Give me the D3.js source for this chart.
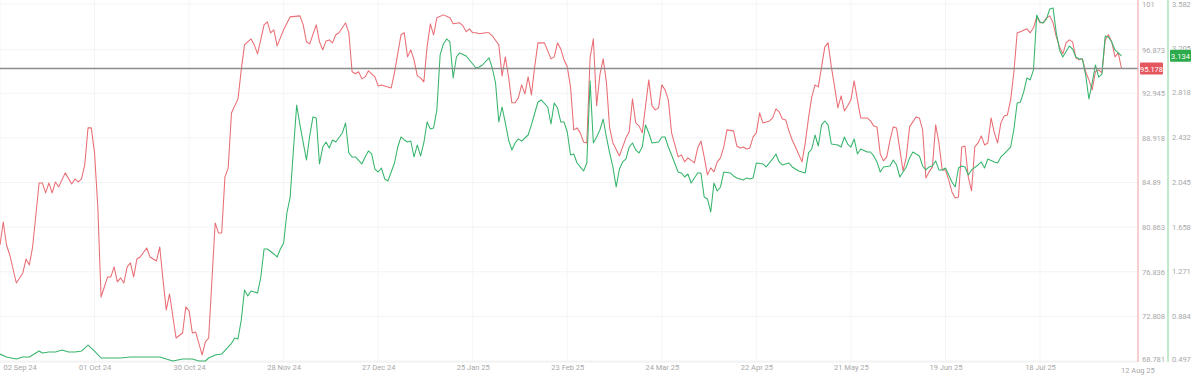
<!DOCTYPE html>
<html>
<head>
<meta charset="utf-8">
<script src="https://cdn.jsdelivr.net/npm/d3@7"></script>
<style>
  body { margin: 0; background: #fff; }
  text { font-family: Roboto, "Liberation Sans", Arial, sans-serif; }
</style>
</head>
<body>
<svg id="chart" width="1200" height="386"></svg>
<script>
// series data: [days since start, value]
const startDate = new Date(2024, 8, 2);
const endDate = new Date(2025, 7, 12);

const redSeries = [[0,79.25],[1,81.33],[2,79.25],[3,78.35],[5,75.82],[7,76.73],[8,77.99],[9,77.45],[10,79.07],[12,84.85],[13,84.85],[14,83.95],[15,84.85],[16,83.95],[17,84.94],[18,84.49],[20,85.76],[22,84.76],[23,85.21],[24,84.94],[25,85.21],[26,86.48],[27,89.82],[28,89.82],[29,87.56],[30,82.69],[31,74.56],[32,75.46],[33,76.37],[34,76.37],[35,77.27],[36,75.92],[37,76.28],[38,75.82],[39,77.27],[40,77.63],[41,76.37],[42,77.99],[43,78.17],[45,78.98],[46,78.17],[48,77.81],[49,79.07],[50,76.10],[51,73.39],[52,74.83],[54,70.86],[56,71.31],[57,73.66],[58,73.30],[59,71.31],[60,71.40],[62,69.33],[63,70.50],[64,70.86],[66,81.24],[67,80.34],[68,80.34],[69,85.40],[70,86.21],[71,91.17],[73,92.44],[74,95.06],[75,97.31],[77,97.85],[78,97.31],[79,96.50],[81,99.12],[82,99.39],[83,98.40],[84,98.67],[85,97.22],[87,98.67],[89,99.84],[92,99.93],[93,99.12],[94,97.59],[95,97.40],[97,99.12],[98,97.59],[99,96.86],[100,97.67],[101,97.76],[102,97.49],[103,98.22],[104,98.40],[106,99.30],[107,98.40],[108,94.88],[109,94.70],[110,94.88],[111,94.24],[112,94.42],[113,94.97],[115,94.42],[116,93.61],[117,93.70],[119,93.52],[120,93.43],[121,94.79],[123,98.22],[124,98.40],[125,96.23],[126,96.86],[127,95.96],[128,94.51],[129,94.33],[130,93.97],[131,97.13],[132,99.21],[133,98.22],[134,99.75],[136,100.02],[138,99.75],[139,99.21],[141,99.30],[142,99.03],[143,98.5],[144,98.76],[145,98.40],[146,98.40],[147,98.31],[149,98.40],[150,98.40],[151,98.13],[153,97.31],[154,94.51],[155,96.23],[156,94.42],[157,92.08],[158,92.08],[159,92.53],[160,93.70],[161,92.89],[162,94.42],[163,92.80],[164,95.33],[165,97.49],[167,97.49],[169,96.05],[170,96.23],[171,97.49],[172,96.95],[173,95.96],[174,95.33],[175,93.52],[176,89.64],[177,89.82],[178,89.37],[179,88.55],[180,88.46],[181,96.14],[182,97.85],[183,91.81],[184,94.60],[185,96.05],[186,93.97],[187,89.82],[188,88.46],[190,87.29],[191,88.10],[192,88.92],[193,89.46],[194,92.44],[195,90.27],[196,90.00],[197,89.37],[199,94.15],[200,91.81],[201,91.44],[202,91.63],[203,93.70],[204,93.25],[205,92.35],[206,89.37],[208,87.20],[209,87.38],[210,86.75],[211,87.11],[213,86.66],[214,88.01],[215,88.64],[216,87.20],[217,85.58],[218,86.21],[219,85.85],[220,86.75],[221,87.11],[222,88.10],[223,89.64],[225,89.55],[226,88.19],[227,88.01],[228,88.10],[229,87.92],[230,88.01],[231,89.01],[232,89.37],[233,91.17],[234,90.27],[236,90.45],[237,90.72],[238,91.53],[239,91.26],[240,90.63],[241,90.54],[242,89.55],[243,88.73],[244,88.10],[246,86.75],[247,88.46],[248,90.72],[249,92.62],[250,93.70],[251,93.52],[252,95.33],[253,97.13],[254,97.49],[255,95.33],[256,93.52],[257,91.63],[258,92.71],[259,91.35],[260,91.81],[261,92.35],[262,94.06],[263,92.35],[264,90.72],[266,90.72],[267,90.45],[268,90.00],[269,89.91],[270,87.47],[271,86.84],[272,87.20],[273,88.73],[274,89.91],[275,89.82],[277,85.94],[278,87.20],[279,89.91],[280,90.36],[281,90.81],[282,90.72],[283,89.64],[284,85.30],[285,85.85],[286,86.30],[287,90.09],[288,88.46],[289,86.03],[290,86.03],[291,85.12],[292,84.04],[293,83.50],[294,83.59],[295,88.10],[296,88.19],[297,85.40],[298,84.13],[299,88.10],[300,88.46],[301,89.10],[302,88.28],[303,88.46],[304,90.72],[305,89.37],[306,88.46],[307,90.27],[308,90.90],[309,90.99],[310,92.35],[311,94.88],[312,98.40],[313,98.49],[315,98.76],[316,98.40],[317,98.85],[318,99.84],[319,99.30],[320,99.30],[321,99.75],[322,99.93],[323,99.30],[324,98.04],[325,97.13],[326,96.50],[327,97.49],[328,97.76],[329,97.58],[330,96.14],[331,95.96],[332,96.05],[333,94.88],[334,94.15],[335,93.25],[336,94.88],[337,95.06],[338,94.79],[339,97.76],[340,98.22],[341,97.58],[342,96.23],[343,96.59],[344,95.18]];

const greenSeries = [[0,0.557],[2,0.531],[5,0.514],[7,0.531],[9,0.531],[12,0.583],[13,0.566],[15,0.575],[17,0.575],[19,0.592],[21,0.575],[23,0.575],[25,0.583],[27,0.635],[29,0.583],[31,0.523],[34,0.523],[37,0.523],[40,0.531],[43,0.531],[46,0.531],[49,0.531],[53,0.497],[56,0.514],[59,0.514],[61,0.497],[63,0.497],[64,0.523],[66,0.549],[68,0.557],[71,0.65],[72,0.696],[73,0.687],[74,0.851],[75,1.111],[76,1.059],[77,1.102],[79,1.085],[80,1.223],[81,1.465],[82,1.465],[84,1.422],[85,1.396],[86,1.465],[87,1.517],[88,1.776],[89,1.914],[90,2.321],[91,2.709],[92,2.537],[94,2.234],[95,2.442],[96,2.606],[97,2.597],[98,2.200],[99,2.346],[100,2.390],[101,2.338],[102,2.407],[103,2.390],[105,2.467],[106,2.554],[107,2.295],[108,2.260],[109,2.260],[111,2.200],[112,2.260],[113,2.312],[114,2.286],[115,2.156],[116,2.130],[117,2.165],[118,2.070],[119,2.053],[121,2.208],[122,2.346],[123,2.433],[124,2.407],[125,2.390],[126,2.398],[127,2.260],[128,2.364],[129,2.269],[130,2.381],[131,2.562],[132,2.502],[133,2.511],[134,2.666],[135,3.142],[136,3.237],[137,3.280],[138,3.254],[139,2.943],[140,3.124],[141,3.159],[143,3.133],[144,3.098],[146,3.029],[147,3.038],[148,3.055],[150,3.116],[151,3.029],[152,2.900],[153,2.563],[154,2.692],[155,2.554],[156,2.407],[157,2.321],[158,2.381],[159,2.416],[160,2.398],[161,2.424],[162,2.450],[163,2.537],[165,2.735],[166,2.753],[168,2.692],[169,2.545],[170,2.727],[171,2.684],[172,2.563],[173,2.563],[174,2.476],[175,2.277],[176,2.286],[177,2.208],[178,2.174],[179,2.139],[180,2.208],[181,2.917],[182,2.381],[183,2.433],[184,2.493],[185,2.588],[186,2.433],[187,2.295],[188,2.174],[189,2.001],[190,2.156],[191,2.217],[192,2.243],[193,2.346],[194,2.381],[195,2.321],[196,2.295],[197,2.346],[198,2.537],[199,2.467],[200,2.381],[202,2.390],[203,2.433],[204,2.433],[205,2.346],[206,2.277],[208,2.130],[209,2.122],[210,2.087],[211,2.113],[212,2.035],[214,2.122],[215,2.122],[216,1.914],[217,1.897],[218,1.785],[219,2.035],[220,1.966],[221,2.001],[222,2.130],[224,2.122],[225,2.096],[226,2.079],[228,2.061],[229,2.079],[230,2.070],[231,2.079],[232,2.208],[234,2.200],[235,2.174],[237,2.243],[238,2.286],[239,2.217],[240,2.191],[242,2.208],[243,2.174],[245,2.139],[246,2.130],[247,2.122],[248,2.295],[249,2.329],[250,2.450],[251,2.355],[252,2.537],[253,2.571],[254,2.537],[255,2.372],[257,2.364],[258,2.346],[259,2.433],[260,2.372],[261,2.346],[262,2.416],[263,2.286],[264,2.329],[266,2.303],[267,2.303],[268,2.269],[269,2.217],[270,2.130],[271,2.174],[273,2.182],[274,2.234],[275,2.191],[276,2.087],[278,2.174],[279,2.251],[280,2.303],[282,2.269],[283,2.182],[284,2.148],[285,2.174],[286,2.182],[287,2.226],[288,2.148],[289,2.148],[290,2.165],[291,2.104],[292,2.044],[293,2.001],[294,2.165],[295,2.182],[296,2.174],[297,2.104],[298,2.148],[300,2.191],[301,2.217],[302,2.165],[303,2.243],[305,2.217],[306,2.208],[307,2.260],[308,2.286],[310,2.346],[311,2.502],[312,2.727],[313,2.735],[314,2.822],[315,2.943],[316,2.926],[317,3.012],[318,3.487],[319,3.427],[320,3.418],[321,3.453],[322,3.539],[323,3.548],[324,3.332],[325,3.185],[326,3.124],[328,3.219],[329,3.193],[330,3.124],[331,3.107],[332,3.107],[333,2.969],[334,2.761],[335,2.900],[336,3.055],[337,2.951],[338,2.977],[339,3.306],[340,3.297],[341,3.254],[342,3.185],[344,3.134]];

const redTicks = [101, 96.873, 92.945, 88.918, 84.89, 80.863, 76.836, 72.808, 68.781];
const greenTicks = [3.582, 3.205, 2.818, 2.432, 2.045, 1.658, 1.271, 0.884, 0.497];
const dateTicks = ["2024-09-02", "2024-10-01", "2024-10-30", "2024-11-28", "2024-12-27", "2025-01-25",
  "2025-02-23", "2025-03-24", "2025-04-22", "2025-05-21", "2025-06-19", "2025-07-18", "2025-08-12"];
const redLast = 95.178;
const greenLast = 3.134;

const svg = d3.select("#chart");
const plotRight = 1138;
const greenAxisX = 1168;

const x = d3.scaleTime().domain([startDate, endDate]).range([0, 1121.5]);
const yRed = d3.scaleLinear().domain([68.781, 101]).range([361, 4]);
const yGreen = d3.scaleLinear().domain([0.497, 3.582]).range([361, 4]);
const parse = d3.timeParse("%Y-%m-%d");
const tickDates = dateTicks.map(parse);
function day(n) { return d3.timeDay.offset(startDate, n); }

// grid
svg.append("g").selectAll("line").data(redTicks).join("line")
  .attr("x1", 0).attr("x2", plotRight)
  .attr("y1", d => yRed(d)).attr("y2", d => yRed(d))
  .attr("stroke", "#f3f3f3");
svg.append("g").selectAll("line").data(tickDates.slice(0, -1)).join("line")
  .attr("x1", d => x(d)).attr("x2", d => x(d))
  .attr("y1", 0).attr("y2", 362)
  .attr("stroke", "#f5f5f5");
svg.append("line").attr("x1", 0).attr("x2", plotRight).attr("y1", 362).attr("y2", 362)
  .attr("stroke", "#ededed");

// lines
const redLine = d3.line().x(d => x(day(d[0]))).y(d => yRed(d[1]));
const greenLine = d3.line().x(d => x(day(d[0]))).y(d => yGreen(d[1]));

svg.append("path").datum(redSeries)
  .attr("d", redLine).attr("fill", "none")
  .attr("stroke", "#e96d74").attr("stroke-width", 1.05).attr("stroke-linejoin", "round");
svg.append("path").datum(greenSeries)
  .attr("d", greenLine).attr("fill", "none")
  .attr("stroke", "#36b46b").attr("stroke-width", 1.05).attr("stroke-linejoin", "round");

// current value line
svg.append("line")
  .attr("x1", 0).attr("x2", plotRight)
  .attr("y1", yRed(redLast)).attr("y2", yRed(redLast))
  .attr("stroke", "#8c8c8c").attr("stroke-width", 1.3);

// right axes
svg.append("line").attr("x1", plotRight).attr("x2", plotRight).attr("y1", 0).attr("y2", 362)
  .attr("stroke", "#f09da0");
svg.append("line").attr("x1", greenAxisX).attr("x2", greenAxisX).attr("y1", 0).attr("y2", 362)
  .attr("stroke", "#86d39a");

svg.append("g").attr("transform", `translate(${plotRight},0)`)
  .call(d3.axisRight(yRed).tickValues(redTicks).tickSize(0).tickPadding(4).tickFormat(d => String(d)))
  .call(g => g.select(".domain").remove())
  .call(g => g.selectAll("text").attr("fill", "#a8a8a8").style("font-size", "7.5px"))
  .call(g => g.selectAll(".tick text").filter(d => d === 68.781).attr("dy", "0.05em"));

svg.append("g").attr("transform", `translate(${greenAxisX},0)`)
  .call(d3.axisRight(yGreen).tickValues(greenTicks).tickSize(0).tickPadding(4).tickFormat(d => String(d)))
  .call(g => g.select(".domain").remove())
  .call(g => g.selectAll("text").attr("fill", "#a8a8a8").style("font-size", "7.5px"))
  .call(g => g.selectAll(".tick text").filter(d => d === 0.497).attr("dy", "0.05em"));

// last value tags
const redTag = svg.append("g").attr("transform", `translate(${plotRight + 2},${yRed(redLast)})`);
redTag.append("rect").attr("x", 0).attr("y", -6).attr("width", 23).attr("height", 12).attr("rx", 1).attr("fill", "#e5575e");
redTag.append("text").attr("x", 11.5).attr("y", 3).attr("text-anchor", "middle")
  .attr("fill", "#fff").style("font-size", "7.5px").text(redLast);

const greenTag = svg.append("g").attr("transform", `translate(${greenAxisX + 2},${yGreen(greenLast)})`);
greenTag.append("rect").attr("x", 0).attr("y", -6).attr("width", 21).attr("height", 12).attr("rx", 1).attr("fill", "#2dab4c");
greenTag.append("text").attr("x", 10.5).attr("y", 3).attr("text-anchor", "middle")
  .attr("fill", "#fff").style("font-size", "7.5px").text(greenLast);

// x axis
const xAxis = svg.append("g").attr("transform", "translate(0,362)")
  .call(d3.axisBottom(x).tickValues(tickDates).tickSize(0).tickPadding(3).tickFormat(d3.timeFormat("%d %b %y")))
  .call(g => g.select(".domain").remove());
xAxis.selectAll("text").attr("fill", "#a8a8a8").style("font-size", "7.5px");
xAxis.selectAll(".tick text").filter((d, i) => i === 0).attr("text-anchor", "start").attr("dx", 3);
xAxis.selectAll(".tick text").filter((d, i) => i === tickDates.length - 1)
  .attr("text-anchor", "start").attr("dx", -1).attr("dy", "1.1em");
</script>
</body>
</html>
